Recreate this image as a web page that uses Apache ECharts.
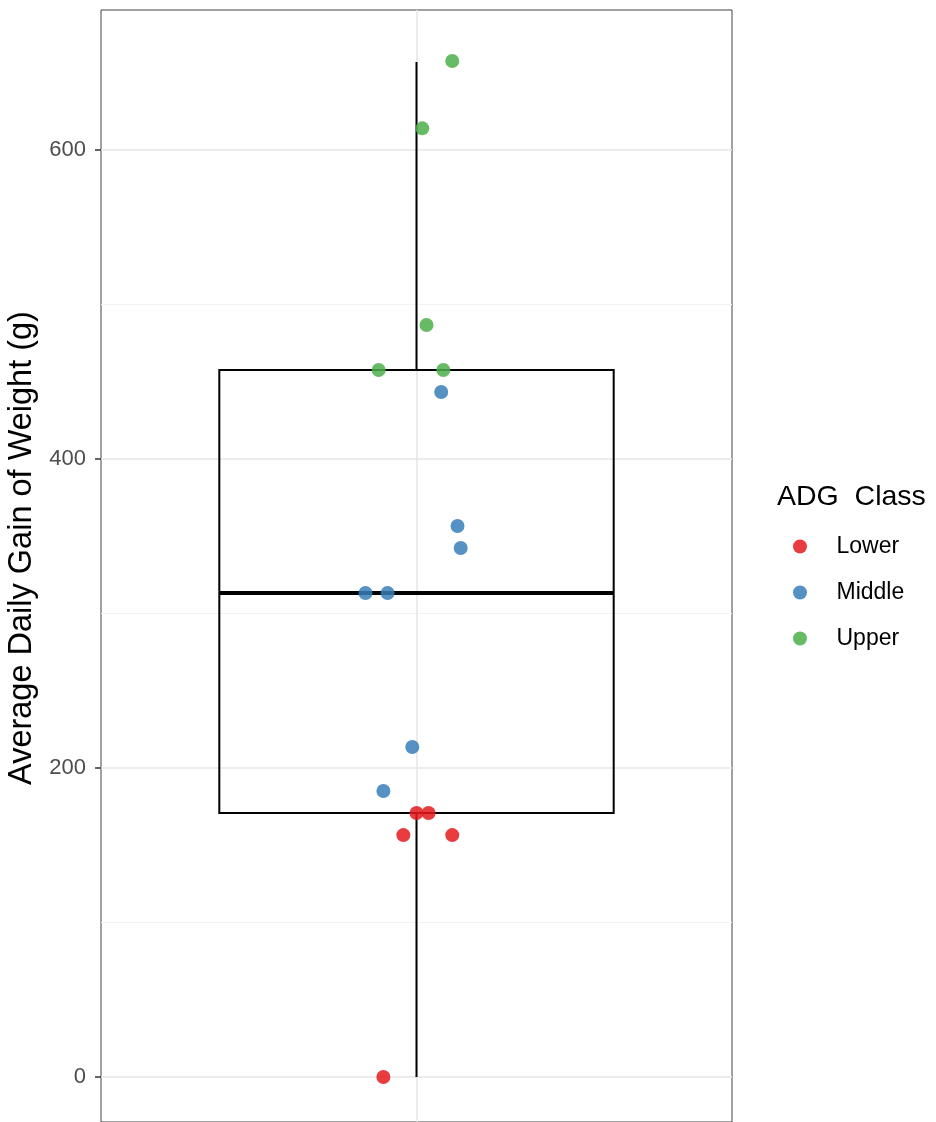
<!DOCTYPE html>
<html><head><meta charset="utf-8">
<script src="https://cdn.jsdelivr.net/npm/echarts@6/dist/echarts.min.js"></script>
<style>html,body{margin:0;padding:0;overflow:hidden;background:#fff}#c{width:936px;height:1122px}</style>
</head><body><div id="c"></div>
<script>
// ---- data ----
const classes = ['Lower', 'Middle', 'Upper'];
const classColors = ['#E41A1C', '#377EB8', '#4DAF4A'];
const lowerX  = [1.000, 1.023, 0.975, 1.068, 0.937];
const lowerY  = [170.9, 170.9, 156.6, 156.6, 0];
const middleX = [1.047, 1.078, 1.084, 0.903, 0.945, 0.992, 0.937];
const middleY = [443.4, 356.6, 342.4, 313.3, 313.3, 213.6, 185.1];
const upperX  = [1.068, 1.011, 1.019, 0.928, 1.051];
const upperY  = [657.6, 614.0, 486.7, 457.6, 457.6];
// whisker low, Q1, median, Q3, whisker high
const boxStats = [0, 170.9, 313.3, 457.6, 657.0];
const yTicks = [0, 200, 400, 600];
const yMinor = [100, 300, 500];
const yTitle = 'Average Daily Gain of Weight (g)';
const legendTitle = 'ADG  Class';

const FONT = '"Liberation Sans", Arial, sans-serif';
const boxWidth = 0.75;
function pairs(xs, ys){ return xs.map((x,i)=>[x, ys[i]]); }
const pointSets = [pairs(lowerX, lowerY), pairs(middleX, middleY), pairs(upperX, upperY)];

const chart = echarts.init(document.getElementById('c'), null, {renderer:'canvas'});

const gridLines = [
  ...yMinor.map(v => ({yAxis: v, lineStyle:{color:'#f2f2f2', width:1, type:'solid'}})),
  ...yTicks.map(v => ({yAxis: v, lineStyle:{color:'#e6e6e6', width:1.5, type:'solid'}})),
  {xAxis: 1, lineStyle:{color:'#e6e6e6', width:1.5, type:'solid'}}
];

const series = [
  {
    type: 'scatter', name: '_grid', data: [], z: 0, silent: true,
    markLine: {z: 0, silent:true, symbol:['none','none'], label:{show:false}, animation:false,
      lineStyle:{type:'solid'}, emphasis:{disabled:true}, data: gridLines}
  },
  {
    type: 'custom', name: '_box', z: 2, silent: true,
    data: [[1, ...boxStats]],
    renderItem: function(params, api){
      const x = api.value(0);
      const lo = api.value(1), q1 = api.value(2), med = api.value(3), q3 = api.value(4), hi = api.value(5);
      const pL1 = api.coord([x - boxWidth/2, q1]);
      const pR3 = api.coord([x + boxWidth/2, q3]);
      const pMedL = api.coord([x - boxWidth/2, med]);
      const pMedR = api.coord([x + boxWidth/2, med]);
      const pLo = api.coord([x, lo]), pQ1 = api.coord([x, q1]);
      const pQ3 = api.coord([x, q3]), pHi = api.coord([x, hi]);
      const st = {stroke:'#000', lineWidth:2, fill:null};
      return {type:'group', children:[
        {type:'line', shape:{x1:pLo[0], y1:pLo[1], x2:pQ1[0], y2:pQ1[1]}, style:st},
        {type:'line', shape:{x1:pQ3[0], y1:pQ3[1], x2:pHi[0], y2:pHi[1]}, style:st},
        {type:'rect', shape:{x:pL1[0], y:pR3[1], width:pR3[0]-pL1[0], height:pL1[1]-pR3[1]}, style:{stroke:'#000', lineWidth:2, fill:'rgba(255,255,255,0)'}},
        {type:'line', shape:{x1:pMedL[0], y1:pMedL[1], x2:pMedR[0], y2:pMedR[1]}, style:{stroke:'#000', lineWidth:4}}
      ]};
    }
  },
  ...classes.map((c, i) => ({
    type: 'scatter', name: c, z: 5, data: pointSets[i], symbolSize: 14,
    itemStyle: {color: classColors[i], opacity: 0.85}
  }))
];

chart.setOption({
  animation: false,
  backgroundColor: '#fff',
  textStyle: {fontFamily: FONT},
  grid: {left: 101, right: 204, top: 10, bottom: 0, outerBoundsMode: 'none', containLabel: false,
    show: true, borderColor: '#444', borderWidth: 1, backgroundColor: 'transparent'},
  xAxis: {type: 'value', min: 0.4, max: 1.6, show: false},
  yAxis: {
    type: 'value', min: -29.1, max: 690.6,
    name: yTitle, nameLocation: 'middle', nameRotate: 90, nameGap: 55,
    nameTextStyle: {fontSize: 32.5, color: '#000', fontFamily: FONT, padding: [0, 0, 0, 36]},
    axisLine: {show: false},
    splitLine: {show: false},
    axisTick: {show: true, customValues: yTicks, length: 6, lineStyle: {color: '#333', width: 1.5}},
    axisLabel: {show: true, customValues: yTicks, fontSize: 22, color: '#4d4d4d', margin: 15, fontFamily: FONT}
  },
  title: {text: legendTitle, left: 772, top: 478, textStyle: {fontSize: 28.5, fontWeight: 'normal', color: '#000', fontFamily: FONT}},
  legend: {
    data: classes, orient: 'vertical', left: 793, top: 535, padding: 0,
    icon: 'circle', itemWidth: 63, itemHeight: 14, itemGap: 23,
    textStyle: {fontSize: 23, color: '#000', fontFamily: FONT},
    selectedMode: false
  },
  series: series
});
</script>
</body></html>
